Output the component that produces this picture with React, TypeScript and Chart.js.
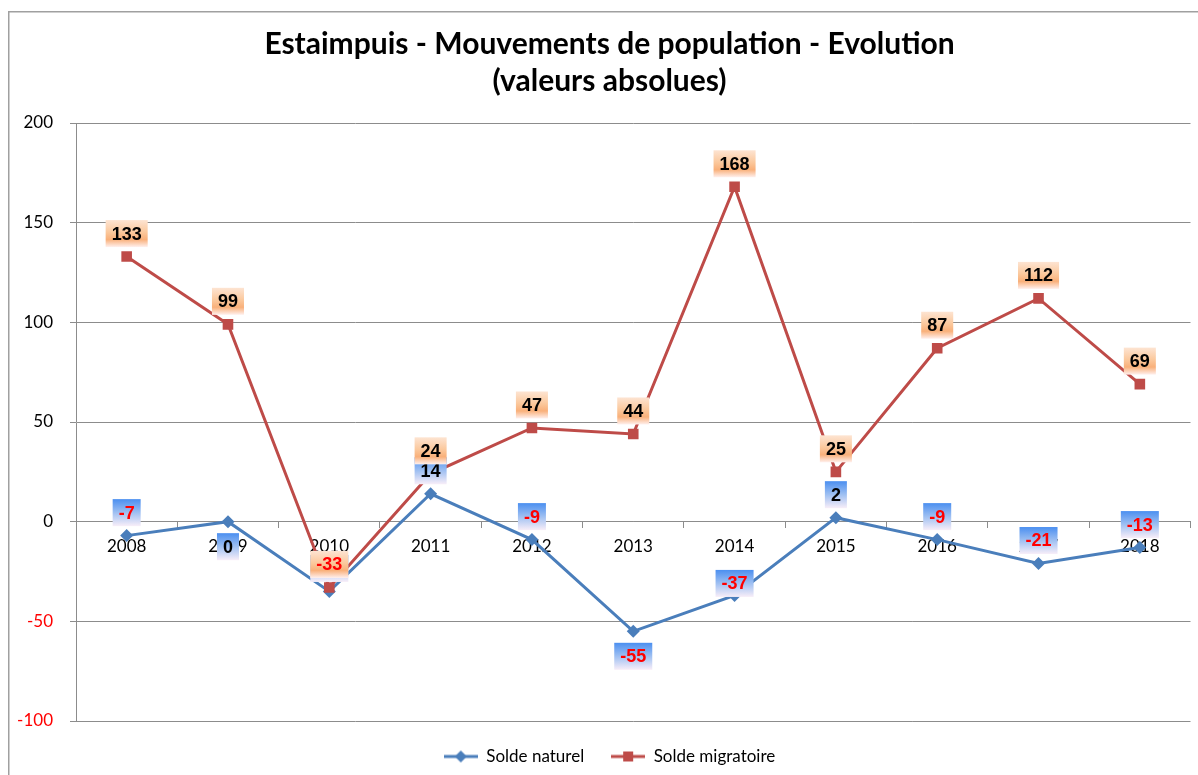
import React, { useEffect, useRef } from 'react';
import { Chart, registerables } from 'chart.js';

Chart.register(...registerables);

const years = ['2008', '2009', '2010', '2011', '2012', '2013', '2014', '2015', '2016', '2017', '2018'];
const soldeNaturel = [-7, 0, -35, 14, -9, -55, -37, 2, -9, -21, -13];
const soldeMigratoire = [133, 99, -33, 24, 47, 44, 168, 25, 87, 112, 69];
const seriesNames = ['Solde naturel', 'Solde migratoire'];
const titleLines = ['Estaimpuis - Mouvements de population - Evolution', '(valeurs absolues)'];
const yMin = -100;
const yMax = 200;
const yStep = 50;

// label placement style (relative to each point)
const naturelPlacement = ['above', 'below', 'above', 'above', 'above', 'below', 'near', 'above', 'above', 'above', 'above'];
const migratoirePlacement = ['above', 'above', 'above', 'above', 'above', 'above', 'above', 'above', 'above', 'above', 'above'];

const BLUE = '#4a7ebb';
const RED = '#be4b48';
const GRID = '#8c8c8c';

const labelStyles = [
  { placement: naturelPlacement, stops: [[0, '#4b8ff0'], [0.5, '#9fc0f2'], [1, '#f8eef8']] as [number, string][] },
  { placement: migratoirePlacement, stops: [[0, '#fde4d2'], [0.45, '#fbc89c'], [0.72, '#f9b07a'], [1, '#fff0ee']] as [number, string][] },
];

function makeIcon(color: string, shape: 'diamond' | 'square'): HTMLCanvasElement {
  const c = document.createElement('canvas');
  c.width = 34;
  c.height = 14;
  const x = c.getContext('2d')!;
  x.strokeStyle = color;
  x.lineWidth = 3;
  x.beginPath();
  x.moveTo(0, 7);
  x.lineTo(34, 7);
  x.stroke();
  x.fillStyle = color;
  if (shape === 'diamond') {
    x.beginPath();
    x.moveTo(17, 1);
    x.lineTo(23, 7);
    x.lineTo(17, 13);
    x.lineTo(11, 7);
    x.closePath();
    x.fill();
  } else {
    x.fillRect(12, 2, 10, 10);
  }
  return c;
}

const borderPlugin = {
  id: 'outerBorder',
  beforeDraw(chart: any) {
    const ctx = chart.ctx;
    ctx.save();
    ctx.strokeStyle = '#a0a0a0';
    ctx.lineWidth = 1.5;
    ctx.beginPath();
    ctx.moveTo(8.75, 775);
    ctx.lineTo(8.75, 11.75);
    ctx.lineTo(1198, 11.75);
    ctx.stroke();
    ctx.restore();
  },
};

const boxLabelPlugin = {
  id: 'boxLabels',
  afterDatasetsDraw(chart: any) {
    const ctx = chart.ctx;
    ctx.save();
    chart.data.datasets.forEach((ds: any, di: number) => {
      const meta = chart.getDatasetMeta(di);
      const style = labelStyles[di];
      meta.data.forEach((pt: any, i: number) => {
        const v = ds.data[i];
        const text = String(v);
        ctx.font = 'bold 18px "Liberation Sans", Arial, sans-serif';
        const tw = ctx.measureText(text).width;
        const w = tw + 12;
        const h = 27;
        const p = style.placement[i];
        const dy = p === 'below' ? 25 : p === 'near' ? -12 : -23;
        const cx = pt.x;
        const cy = pt.y + dy;
        const g = ctx.createLinearGradient(0, cy - h / 2, 0, cy + h / 2);
        style.stops.forEach(([o, c]) => g.addColorStop(o, c));
        ctx.fillStyle = g;
        ctx.fillRect(cx - w / 2, cy - h / 2, w, h);
        ctx.fillStyle = v < 0 ? '#ff0000' : '#000000';
        ctx.textAlign = 'center';
        ctx.textBaseline = 'middle';
        ctx.fillText(text, cx, cy + 1);
      });
    });
    ctx.restore();
  },
};

export default function App() {
  const ref = useRef<HTMLCanvasElement>(null);

  useEffect(() => {
    if (!ref.current) return;
    const icons = [makeIcon(BLUE, 'diamond'), makeIcon(RED, 'square')];
    const chart = new Chart(ref.current, {
      type: 'line',
      data: {
        labels: years,
        datasets: [
          {
            label: seriesNames[0],
            data: soldeNaturel,
            borderColor: BLUE,
            backgroundColor: BLUE,
            borderWidth: 3,
            pointStyle: 'rectRot',
            pointRadius: 6.5,
            pointBorderWidth: 0,
            pointBackgroundColor: BLUE,
            tension: 0,
            order: 1,
          },
          {
            label: seriesNames[1],
            data: soldeMigratoire,
            borderColor: RED,
            backgroundColor: RED,
            borderWidth: 3,
            pointStyle: 'rect',
            pointRadius: 7.5,
            pointBorderWidth: 0,
            pointBackgroundColor: RED,
            tension: 0,
            order: 0,
          },
        ],
      },
      options: {
        responsive: false,
        animation: false,
        events: [],
        layout: { padding: { left: 24, right: 3, top: 0, bottom: 0 } },
        scales: {
          x: {
            type: 'category',
            position: { y: 0 } as any,
            offset: true,
            grid: { offset: true, drawOnChartArea: false, drawTicks: true, tickLength: 6, color: GRID, lineWidth: 1 },
            border: { color: GRID, width: 1 },
            ticks: {
              padding: 9,
              autoSkip: false,
              maxRotation: 0,
              color: '#000000',
              font: { family: 'Lato', size: 17 },
            },
          },
          y: {
            min: yMin,
            max: yMax,
            afterFit: (s: any) => {
              s.width = 52;
              // let tick labels extend left of the axis box (no clipping)
              s._computeLabelArea = () => undefined;
            },
            grid: { color: GRID, lineWidth: 1, tickLength: 6, drawTicks: true },
            border: { color: GRID, width: 1 },
            ticks: {
              stepSize: yStep,
              padding: 17,
              color: (c: any) => (c.tick && c.tick.value < 0 ? '#ff0000' : '#000000'),
              font: { family: 'Lato', size: 17 },
            },
          },
        },
        plugins: {
          title: {
            display: true,
            text: titleLines,
            color: '#000000',
            font: { family: 'Lato', size: 30, weight: 'bold', lineHeight: '37px' as any },
            padding: { top: 26, bottom: 23 },
          },
          legend: {
            display: true,
            position: 'bottom',
            labels: {
              usePointStyle: true,
              pointStyleWidth: 34,
              padding: 27,
              color: '#000000',
              font: { family: 'Lato', size: 17 },
              sort: (a: any, b: any) => a.datasetIndex - b.datasetIndex,
              generateLabels: (ch: any) => {
                const items = (Chart.defaults.plugins.legend.labels as any).generateLabels(ch);
                return items.map((it: any) => ({ ...it, pointStyle: icons[it.datasetIndex], lineWidth: 0 }));
              },
            },
          },
          tooltip: { enabled: false },
        },
      },
      plugins: [borderPlugin, boxLabelPlugin],
    });
    return () => chart.destroy();
  }, []);

  return (
    <canvas
      ref={ref}
      width={1198}
      height={775}
      style={{ position: 'fixed', left: 0, top: 0, width: 1198, height: 775 }}
    />
  );
}
